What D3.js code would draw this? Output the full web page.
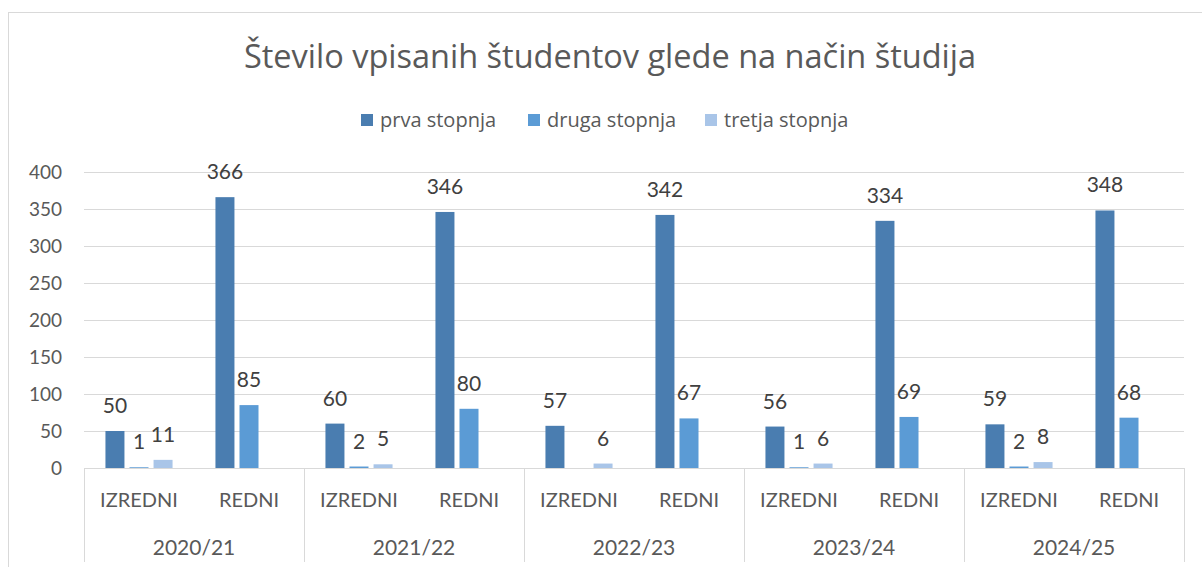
<!DOCTYPE html>
<html>
<head>
<meta charset="utf-8">
<script src="https://cdn.jsdelivr.net/npm/d3@7"></script>
<style>
  body { margin: 0; background: #fff; }
  svg { font-family: Lato, "Open Sans", sans-serif; }
</style>
</head>
<body>
<div id="chart"></div>
<script>
// data
const years = ["2020/21", "2021/22", "2022/23", "2023/24", "2024/25"];
const modes = ["IZREDNI", "REDNI"];
const series = ["prva stopnja", "druga stopnja", "tretja stopnja"];
const prva   = [50, 366, 60, 346, 57, 342, 56, 334, 59, 348];
const druga  = [1, 85, 2, 80, null, 67, 1, 69, 2, 68];
const tretja = [11, null, 5, null, 6, null, 6, null, 8, null];
const yTicks = [0, 50, 100, 150, 200, 250, 300, 350, 400];

const colors = ["#4a7db0", "#5b9bd5", "#a9c5e8"];
const width = 1202, height = 567;
const margin = {left: 84, right: 18, top: 172, bottom: 99};

const rows = [];
years.forEach((y, i) => modes.forEach((m, j) => {
    const k = i * 2 + j;
    rows.push({key: y + "|" + m, year: y, mode: m, vals: [prva[k], druga[k], tretja[k]]});
}));

const svg = d3.select("#chart").append("svg")
    .attr("width", width)
    .attr("height", height);

// chart border
svg.append("rect")
    .attr("x", 8.5).attr("y", 12.5)
    .attr("width", width + 20).attr("height", height)
    .attr("fill", "none")
    .attr("stroke", "#d9d9d9");

const x0 = d3.scaleBand()
    .domain(rows.map(d => d.key))
    .range([margin.left, width - margin.right]);

const xYear = d3.scaleBand()
    .domain(years)
    .range([margin.left, width - margin.right]);

const x1 = d3.scaleBand()
    .domain(series)
    .range([x0.bandwidth() * 0.195, x0.bandwidth() * 0.805])
    .paddingInner(0.21);

const y = d3.scaleLinear()
    .domain([0, 400])
    .range([height - margin.bottom, margin.top]);

// gridlines
svg.append("g")
    .selectAll("line")
    .data(yTicks.filter(d => d > 0))
    .join("line")
    .attr("x1", margin.left).attr("x2", width - margin.right)
    .attr("y1", d => Math.round(y(d)) + 0.5).attr("y2", d => Math.round(y(d)) + 0.5)
    .attr("stroke", "#d9d9d9");

// y labels
svg.append("g")
    .selectAll("text")
    .data(yTicks)
    .join("text")
    .attr("x", 62)
    .attr("y", d => y(d))
    .attr("dy", "0.36em")
    .attr("text-anchor", "end")
    .attr("font-size", 19)
    .attr("fill", "#595959")
    .text(d => d);

// bars
const groups = svg.append("g")
    .selectAll("g")
    .data(rows)
    .join("g")
    .attr("transform", d => `translate(${x0(d.key)},0)`);

const cells = d => series.map((s, i) => ({s: s, i: i, v: d.vals[i]})).filter(c => c.v != null);

groups.selectAll("rect")
    .data(cells)
    .join("rect")
    .attr("x", c => x1(c.s))
    .attr("width", x1.bandwidth())
    .attr("y", c => y(c.v))
    .attr("height", c => y(0) - y(c.v))
    .attr("fill", c => colors[c.i]);

groups.selectAll("text")
    .data(cells)
    .join("text")
    .attr("x", c => x1(c.s) + x1.bandwidth() / 2)
    .attr("y", c => y(c.v) - 18)
    .attr("text-anchor", "middle")
    .attr("font-size", 21)
    .attr("fill", "#404040")
    .text(c => c.v);

// category axis
const axisY = y(0);
svg.append("line")
    .attr("x1", margin.left).attr("x2", width - margin.right)
    .attr("y1", Math.round(axisY) + 0.5).attr("y2", Math.round(axisY) + 0.5)
    .attr("stroke", "#d9d9d9");

const seps = years.map(d => xYear(d)).concat([width - margin.right]);
svg.append("g")
    .selectAll("line")
    .data(seps)
    .join("line")
    .attr("x1", d => Math.round(d) + 0.5).attr("x2", d => Math.round(d) + 0.5)
    .attr("y1", axisY).attr("y2", 562)
    .attr("stroke", "#d9d9d9");

svg.append("g")
    .selectAll("text")
    .data(rows)
    .join("text")
    .attr("x", d => x0(d.key) + x0.bandwidth() / 2)
    .attr("y", 507)
    .attr("text-anchor", "middle")
    .attr("font-size", 20)
    .attr("fill", "#595959")
    .text(d => d.mode);

svg.append("g")
    .selectAll("text")
    .data(years)
    .join("text")
    .attr("x", d => xYear(d) + xYear.bandwidth() / 2)
    .attr("y", 555)
    .attr("text-anchor", "middle")
    .attr("font-size", 21)
    .attr("fill", "#595959")
    .text(d => d);

// title
svg.append("text")
    .attr("x", 610)
    .attr("y", 68)
    .attr("text-anchor", "middle")
    .attr("font-family", "'Open Sans', sans-serif")
    .attr("font-size", 32.5)
    .attr("fill", "#595959")
    .text("Število vpisanih študentov glede na način študija");

// legend
const legendX = [361, 528, 705];
const legend = svg.append("g")
    .selectAll("g")
    .data(series)
    .join("g")
    .attr("transform", (d, i) => `translate(${legendX[i]},114)`);

legend.append("rect")
    .attr("width", 12).attr("height", 12)
    .attr("fill", (d, i) => colors[i]);

legend.append("text")
    .attr("x", 19)
    .attr("y", 12.5)
    .attr("font-family", "'Open Sans', sans-serif")
    .attr("font-size", 20)
    .attr("fill", "#595959")
    .text(d => d);
</script>
</body>
</html>
